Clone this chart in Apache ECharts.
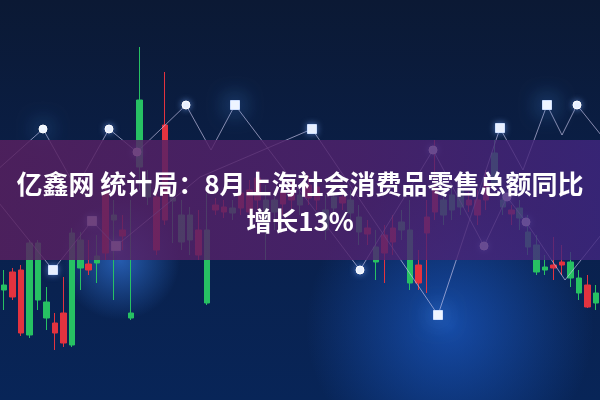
<!DOCTYPE html>
<html>
<head>
<meta charset="utf-8">
<script src="https://cdn.jsdelivr.net/npm/echarts@6/dist/echarts.min.js"></script>
<style>html,body{margin:0;padding:0;background:#0a1a38}#c{width:600px;height:400px}</style>
</head>
<body>
<div id="c"></div>
<script>
// ---- data ----
var titleLine1 = '亿鑫网 统计局：8月上海社会消费品零售总额同比';
var titleLine2 = '增长13%';

// candlestick sticks (index units; one per column)
var candleOpen  = [115,103,67,157,157,98,67,57,167,160,130,144,147,185,164,87,300,220,150,180,202,185,185,145,170,190,188,192,192,188,200,200,200,196,200,205,202,200,190,203,197,200,183,166,153,147,158,178,170,117,167,188,200,205,210,195,185,200,247,200,186,192,168,155,133,132,135,138,122,93,107];
var candleClose = [110,128,130,65,100,82,77,87,55,132,136,137,207,180,170,82,233,203,203,275,199,158,160,170,97,195,193,187,207,210,222,175,188,208,210,195,215,213,170,192,203,187,168,172,138,165,172,170,117,135,183,212,185,190,193,200,200,217,217,193,190,182,153,128,130,135,138,122,107,115,97];
var candleLow   = [90,100,64,62,90,70,50,53,53,110,125,117,140,100,150,80,210,195,145,175,157,150,145,140,95,185,182,180,185,180,190,140,170,185,190,185,195,190,160,185,190,175,155,155,120,117,145,160,110,110,107,180,175,180,185,188,175,190,210,185,175,170,145,125,125,120,125,113,100,92,90];
var candleHigh  = [130,132,135,160,160,113,87,123,172,168,160,165,220,200,185,200,353,230,210,328,210,200,193,190,207,202,200,200,215,220,230,215,210,218,220,215,225,220,205,215,210,210,195,180,170,175,185,190,200,150,200,260,210,215,220,208,210,230,260,210,195,200,185,165,145,163,155,148,130,125,115];

// zig-zag lines: x position (0-600 scale) and level
var line1X = [-5,43,76,109,137,186,211,235,360,433,484,507,526,565,605];
var line1Y = [228,271,212,271,248,295,250,295,130,250,154,203,178,120,170];
var line1Marks = ['none','glowDot','none','dot','dot','dot','none','glowSq','dot','dot','dot','dot','dot','none','none'];

var line2X = [-5,53,92,116,200,312,438,500,523,547,562,577,605];
var line2Y = [202,130,179,154,223,271,85,272,230,295,265,295,260];
var line2Marks = ['none','sq','sq','sq','none','sq','glowSq','sq','none','glowSq','none','dot','none'];

// ---- build ----
var cats = candleOpen.map(function(_, i){ return 'c' + i; });
var candleData = candleOpen.map(function(o, i){ return [o, candleClose[i], candleLow[i], candleHigh[i]]; });

function markStyle(kind){
  if (kind === 'none') return {symbol:'none'};
  var sq = (kind === 'sq' || kind === 'glowSq');
  var glow = (kind === 'glowSq' || kind === 'glowDot');
  return {
    symbol: sq ? 'rect' : 'circle',
    symbolSize: sq ? 9 : 8,
    itemStyle: {
      color: '#f4f8ff',
      borderColor: sq ? '#cfe0ff' : '#ffffff',
      borderWidth: 1,
      shadowColor: glow ? 'rgba(80,160,255,1)' : 'rgba(120,170,255,0.6)',
      shadowBlur: glow ? 22 : 6
    }
  };
}
function buildLine(xs, ys, marks){
  return xs.map(function(x, i){
    var m = markStyle(marks[i]);
    var d = {value:[x, ys[i]], symbol: m.symbol};
    if (m.symbolSize) { d.symbolSize = m.symbolSize; d.itemStyle = m.itemStyle; }
    return d;
  });
}

var chart = echarts.init(document.getElementById('c'), null, {renderer:'canvas'});
chart.setOption({
  animation: false,
  backgroundColor: {
    type:'linear', x:0, y:0, x2:0, y2:1,
    colorStops:[{offset:0,color:'#0b1934'},{offset:0.45,color:'#0a1f48'},{offset:1,color:'#082558'}]
  },
  grid: [
    {left:-1, right:-2, top:0, bottom:0},
    {left:0, right:0, top:0, bottom:0}
  ],
  xAxis: [
    {type:'category', data:cats, gridIndex:0, boundaryGap:true, show:false},
    {type:'value', min:0, max:600, gridIndex:1, show:false}
  ],
  yAxis: [
    {type:'value', min:0, max:400, gridIndex:0, show:false},
    {type:'value', min:0, max:400, gridIndex:1, show:false}
  ],
  series: [
    {
      type:'candlestick', xAxisIndex:0, yAxisIndex:0, data:candleData,
      barWidth: 6, z: 3,
      itemStyle:{color:'#e2333f', color0:'#27c163', borderColor:'#e2333f', borderColor0:'#27c163', borderWidth:1}
    },
    {
      type:'line', xAxisIndex:1, yAxisIndex:1, data:buildLine(line1X, line1Y, line1Marks),
      z: 4, lineStyle:{color:'rgba(205,200,235,0.65)', width:1}
    },
    {
      type:'line', xAxisIndex:1, yAxisIndex:1, data:buildLine(line2X, line2Y, line2Marks),
      z: 4, lineStyle:{color:'rgba(205,200,235,0.65)', width:1}
    }
  ],
  graphic: [
    {type:'rect', z:1, shape:{x:280, y:170, width:340, height:240},
     style:{fill:{type:'radial', x:0.5, y:0.65, r:0.6, colorStops:[{offset:0,color:'rgba(30,100,220,0.6)'},{offset:1,color:'rgba(30,100,220,0)'}]}}},
    {type:'rect', z:1, shape:{x:60, y:200, width:120, height:120},
     style:{fill:{type:'radial', x:0.5, y:0.5, r:0.5, colorStops:[{offset:0,color:'rgba(60,140,255,0.55)'},{offset:1,color:'rgba(60,140,255,0)'}]}}},
    {type:'rect', z:50, shape:{x:0, y:140, width:600, height:120},
     style:{fill:{type:'linear', x:0, y:0, x2:1, y2:0, colorStops:[{offset:0,color:'rgba(88,32,96,0.84)'},{offset:0.6,color:'rgba(80,34,110,0.82)'},{offset:1,color:'rgba(66,38,128,0.8)'}]}}},
    {type:'text', z:60, left:'center', top:171,
     style:{text:titleLine1, fill:'#ffffff', font:'bold 26px "Noto Sans CJK SC", sans-serif', textAlign:'center',
            shadowColor:'rgba(0,0,0,0.35)', shadowBlur:3}},
    {type:'text', z:60, left:'center', top:208,
     style:{text:titleLine2, fill:'#ffffff', font:'bold 26px "Noto Sans CJK SC", sans-serif', textAlign:'center',
            shadowColor:'rgba(0,0,0,0.35)', shadowBlur:3}}
  ]
});
</script>
</body>
</html>
